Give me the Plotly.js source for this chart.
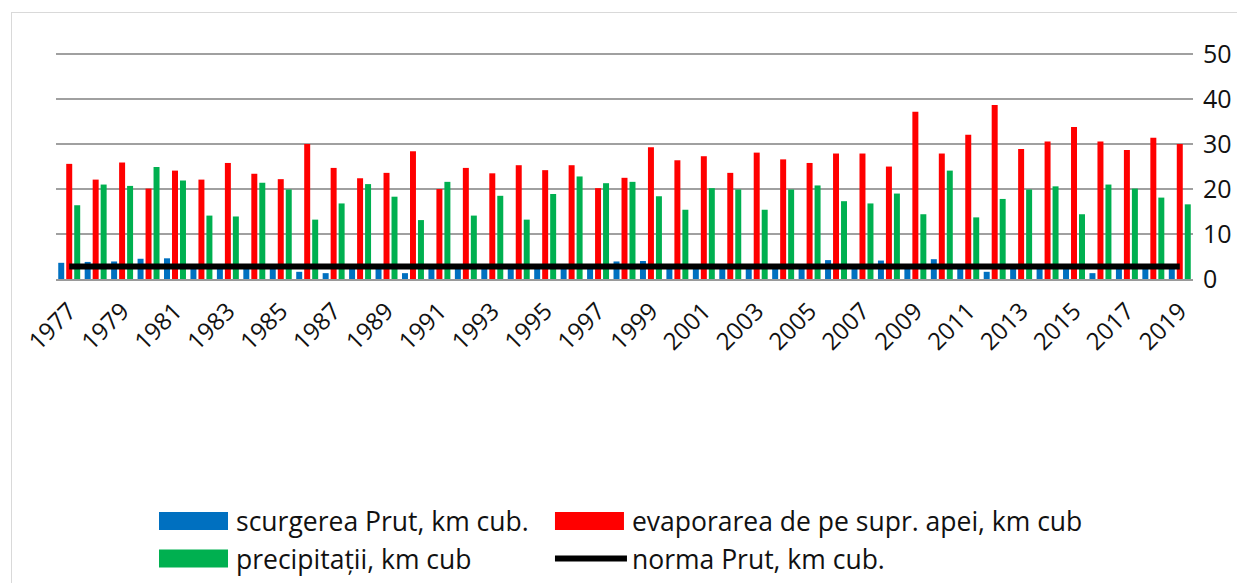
<!DOCTYPE html>
<html>
<head>
<meta charset="utf-8">
<script src="https://cdn.plot.ly/plotly-3.0.1.min.js"></script>
<style>
  html, body { margin: 0; padding: 0; background: #fff; }
  #wrap { position: relative; width: 1237px; height: 583px; overflow: hidden; }
  #chart { position: absolute; left: 0; top: 0; width: 1237px; height: 583px; }
  #frame { position: absolute; left: 11px; top: 12px; width: 1300px; height: 700px;
           border: 1.5px solid #d9d9d9; pointer-events: none; }
</style>
</head>
<body>
<div id="wrap">
  <div id="chart"></div>
  <div id="frame"></div>
</div>
<script>
const years = ["1977","1978","1979","1980","1981","1982","1983","1984","1985","1986","1987","1988","1989","1990","1991","1992","1993","1994","1995","1996","1997","1998","1999","2000","2001","2002","2003","2004","2005","2006","2007","2008","2009","2010","2011","2012","2013","2014","2015","2016","2017","2018","2019"];

const scurgerea = [3.6,3.8,3.9,4.5,4.6,3.0,2.8,3.2,2.6,1.6,1.3,2.9,2.7,1.3,2.8,3.1,2.6,2.4,2.9,3.2,2.6,3.9,4.0,2.8,3.0,2.7,2.5,3.0,3.3,4.2,3.0,4.1,2.4,4.4,2.7,1.6,3.0,2.9,2.5,1.3,2.6,3.0,3.1];

const evaporarea = [25.6,22.1,25.9,20.1,24.1,22.1,25.8,23.4,22.2,30.0,24.7,22.4,23.6,28.4,20.0,24.7,23.5,25.3,24.2,25.3,20.2,22.5,29.3,26.4,27.3,23.6,28.1,26.6,25.8,27.9,27.9,25.0,37.2,27.9,32.1,38.7,28.9,30.6,33.8,30.6,28.7,31.4,30.0];

const precipitatii = [16.4,21.0,20.7,24.9,21.9,14.1,13.9,21.4,19.9,13.2,16.8,21.1,18.3,13.1,21.6,14.1,18.5,13.2,18.9,22.8,21.3,21.6,18.4,15.4,20.2,19.9,15.4,19.9,20.8,17.3,16.8,19.0,14.4,24.1,13.7,17.8,19.9,20.6,14.4,21.0,20.1,18.1,16.6];

const norma = [2.8,2.8,2.8,2.8,2.8,2.8,2.8,2.8,2.8,2.8,2.8,2.8,2.8,2.8,2.8,2.8,2.8,2.8,2.8,2.8,2.8,2.8,2.8,2.8,2.8,2.8,2.8,2.8,2.8,2.8,2.8,2.8,2.8,2.8,2.8,2.8,2.8,2.8,2.8,2.8,2.8,2.8,2.8];

const tickYears = ["1977","1979","1981","1983","1985","1987","1989","1991","1993","1995","1997","1999","2001","2003","2005","2007","2009","2011","2013","2015","2017","2019"];
const yTicks = [0,10,20,30,40,50];

const names = ["scurgerea Prut, km cub.", "evaporarea de pe supr. apei, km cub", "precipitații, km cub", "norma Prut, km cub."];
const colors = ["#0070C0", "#FF0000", "#00B050", "#000000"];

const traces = [
  {type: "bar", name: names[0], x: years, y: scurgerea, marker: {color: colors[0]}, legend: "legend"},
  {type: "bar", name: names[1], x: years, y: evaporarea, marker: {color: colors[1]}, legend: "legend2"},
  {type: "bar", name: names[2], x: years, y: precipitatii, marker: {color: colors[2]}, legend: "legend"},
  {type: "scatter", mode: "lines", name: names[3], x: years, y: norma, line: {color: colors[3], width: 6}, legend: "legend2"}
];

const fontFam = "Open Sans, Liberation Sans, Arial, sans-serif";
const legendFont = {family: fontFam, size: 26.5, color: "#111111"};

const layout = {
  width: 1237, height: 583,
  paper_bgcolor: "#ffffff", plot_bgcolor: "#ffffff",
  margin: {l: 56, r: 44, t: 53, b: 304, pad: 0, autoexpand: false},
  barmode: "group",
  bargap: 0.094,
  bargroupgap: 0.25,
  showlegend: true,
  font: {family: fontFam, color: "#111111", size: 24},
  xaxis: {
    type: "category",
    tickmode: "array",
    tickvals: tickYears,
    ticktext: tickYears,
    tickangle: -45,
    ticks: "",
    ticklabelstandoff: 7,
    tickfont: {family: fontFam, size: 24, color: "#111111"},
    showgrid: false,
    showline: true,
    linecolor: "#9a9a9a",
    linewidth: 1.5,
    zeroline: false,
    automargin: false,
    fixedrange: true
  },
  yaxis: {
    side: "right",
    range: [0, 50.25],
    tickmode: "array",
    tickvals: yTicks,
    ticks: "",
    ticklabelstandoff: 9,
    tickfont: {family: fontFam, size: 25, color: "#111111"},
    showgrid: true,
    gridcolor: "#a0a0a0",
    gridwidth: 1.5,
    zeroline: false,
    showline: false,
    automargin: false,
    fixedrange: true
  },
  legend: {
    orientation: "v",
    xref: "container", yref: "container",
    x: 0.1245, xanchor: "left",
    y: 0.147, yanchor: "top",
    itemwidth: 72,
    traceorder: "normal",
    font: legendFont,
    bgcolor: "rgba(0,0,0,0)",
    borderwidth: 0
  },
  legend2: {
    orientation: "v",
    xref: "container", yref: "container",
    x: 0.4446, xanchor: "left",
    y: 0.147, yanchor: "top",
    itemwidth: 72,
    traceorder: "normal",
    font: legendFont,
    bgcolor: "rgba(0,0,0,0)",
    borderwidth: 0
  }
};

function widenSwatches(gd) {
  // widen the bar legend swatches to Excel-like rectangles
  gd.querySelectorAll("g.legendpoints path").forEach(function (p) {
    const d = (p.getAttribute("d") || "").replace(/\s/g, "");
    if (d === "M6,6H-6V-6H6Z" || p.classList.contains("legendbar")) {
      p.setAttribute("d", "M33,9H-36V-9H33Z");
    }
  });
}

const gdEl = document.getElementById("chart");
Plotly.newPlot(gdEl, traces, layout, {displayModeBar: false, staticPlot: true}).then(function (gd) {
  widenSwatches(gd);
  gd.on("plotly_afterplot", function () { widenSwatches(gd); });
  setTimeout(function () { widenSwatches(gd); }, 30);
  setTimeout(function () { widenSwatches(gd); }, 200);
});
</script>
</body>
</html>
